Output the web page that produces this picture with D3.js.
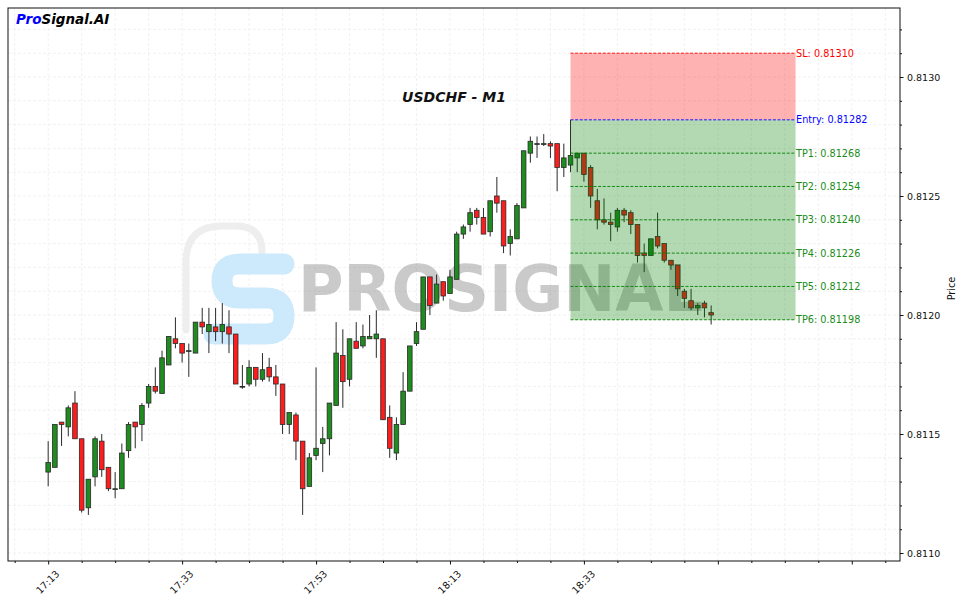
<!DOCTYPE html>
<html><head><meta charset="utf-8">
<script src="https://cdn.jsdelivr.net/npm/d3@7"></script>
<style>body{margin:0;background:#fff;} svg{display:block;font-family:"DejaVu Sans",sans-serif;}</style>
</head><body><svg id="c" width="963" height="603"></svg>
<script>
// ---- data (USDCHF M1, one candle per minute from 17:13) ----
const opens = [
0.81134,0.81136,0.81155,0.81153,0.81163,0.81148,0.81119,0.81132,0.81147,0.81136,
0.81127,0.81127,0.81143,0.81155,0.81154,0.81163,0.81170,0.81167,0.81179,0.81190,
0.81188,0.81185,0.81184,0.81197,0.81193,0.81195,0.81193,0.81195,0.81192,0.81170,
0.81171,0.81178,0.81173,0.81178,0.81174,0.81171,0.81154,0.81158,0.81147,0.81128,
0.81141,0.81146,0.81148,0.81162,0.81183,0.81173,0.81189,0.81187,0.81190,0.81190,
0.81190,0.81157,0.81142,0.81154,0.81168,0.81188,0.81194,0.81216,0.81205,0.81214,
0.81209,0.81215,0.81234,0.81238,0.81244,0.81241,0.81235,0.81250,0.81248,0.81230,
0.81232,0.81245,0.81268,0.81272,0.81272,0.81272,0.81272,0.81262,0.81263,0.81266,
0.81268,0.81262,0.81248,0.81240,0.81239,0.81237,0.81244,0.81243,0.81238,0.81226,
0.81225,0.81233,0.81230,0.81223,0.81221,0.81210,0.81206,0.81203,0.81205,0.81201];
const highs = [
0.81147,0.81154,0.81155,0.81162,0.81168,0.81148,0.81131,0.81149,0.81150,0.81136,
0.81134,0.81146,0.81155,0.81155,0.81163,0.81171,0.81178,0.81185,0.81191,0.81199,
0.81188,0.81188,0.81197,0.81203,0.81203,0.81203,0.81205,0.81202,0.81192,0.81179,
0.81181,0.81178,0.81184,0.81182,0.81179,0.81171,0.81159,0.81159,0.81147,0.81142,
0.81178,0.81153,0.81163,0.81197,0.81194,0.81190,0.81197,0.81196,0.81200,0.81202,
0.81190,0.81162,0.81157,0.81176,0.81187,0.81197,0.81216,0.81216,0.81217,0.81214,
0.81219,0.81235,0.81238,0.81245,0.81245,0.81245,0.81248,0.81258,0.81248,0.81236,
0.81247,0.81269,0.81275,0.81275,0.81276,0.81273,0.81272,0.81272,0.81282,0.81268,
0.81268,0.81263,0.81253,0.81249,0.81243,0.81245,0.81245,0.81244,0.81238,0.81230,
0.81232,0.81243,0.81230,0.81223,0.81221,0.81211,0.81211,0.81205,0.81206,0.81204];
const lows = [
0.81128,0.81136,0.81145,0.81149,0.81148,0.81117,0.81116,0.81128,0.81132,0.81126,
0.81123,0.81127,0.81140,0.81144,0.81147,0.81161,0.81167,0.81167,0.81179,0.81186,
0.81180,0.81174,0.81184,0.81192,0.81184,0.81189,0.81188,0.81184,0.81171,0.81169,
0.81170,0.81170,0.81172,0.81172,0.81166,0.81150,0.81150,0.81139,0.81116,0.81128,
0.81139,0.81134,0.81141,0.81162,0.81161,0.81170,0.81186,0.81186,0.81190,0.81182,
0.81156,0.81140,0.81139,0.81154,0.81168,0.81187,0.81194,0.81200,0.81205,0.81206,
0.81209,0.81215,0.81232,0.81235,0.81238,0.81234,0.81233,0.81243,0.81226,0.81225,
0.81232,0.81245,0.81264,0.81266,0.81271,0.81266,0.81252,0.81258,0.81260,0.81260,
0.81256,0.81245,0.81236,0.81238,0.81231,0.81235,0.81239,0.81234,0.81222,0.81218,
0.81225,0.81228,0.81222,0.81219,0.81208,0.81203,0.81202,0.81200,0.81199,0.81196];
const closes = [
0.81138,0.81154,0.81154,0.81161,0.81148,0.81118,0.81131,0.81148,0.81135,0.81127,
0.81127,0.81142,0.81154,0.81153,0.81162,0.81170,0.81168,0.81182,0.81191,0.81188,
0.81184,0.81185,0.81197,0.81195,0.81196,0.81193,0.81196,0.81192,0.81171,0.81170,
0.81178,0.81173,0.81177,0.81174,0.81171,0.81154,0.81159,0.81147,0.81127,0.81140,
0.81144,0.81148,0.81163,0.81184,0.81172,0.81190,0.81186,0.81191,0.81191,0.81192,
0.81156,0.81144,0.81154,0.81168,0.81187,0.81193,0.81216,0.81204,0.81213,0.81208,
0.81216,0.81234,0.81237,0.81243,0.81241,0.81234,0.81248,0.81247,0.81229,0.81233,
0.81246,0.81269,0.81273,0.81272,0.81272,0.81271,0.81262,0.81266,0.81267,0.81268,
0.81259,0.81250,0.81240,0.81239,0.81238,0.81244,0.81242,0.81238,0.81225,0.81225,
0.81232,0.81229,0.81223,0.81221,0.81211,0.81207,0.81203,0.81204,0.81203,0.81200];

const xMajorTicks = [0,20,40,60,80,100,120];
const xTickLabels = ["17:13","17:33","17:53","18:13","18:33","",""];
const xMinorTicks = [-5,5,10,15,25,30,35,45,50,55,65,70,75,85,90,95,105,110,115,125];
const yMajorTicks = [0.8110,0.8115,0.8120,0.8125,0.8130];
const yMinorTicks = [0.8110,0.8111,0.8112,0.8113,0.8114,0.8115,0.8116,0.8117,0.8118,0.8119,0.8120,
  0.8121,0.8122,0.8123,0.8124,0.8125,0.8126,0.8127,0.8128,0.8129,0.8130,0.8131,0.8132];

const levelNames  = ["SL","Entry","TP1","TP2","TP3","TP4","TP5","TP6"];
const levelValues = [0.81310,0.81282,0.81268,0.81254,0.81240,0.81226,0.81212,0.81198];
const levelKinds  = ["sl","entry","tp","tp","tp","tp","tp","tp"];
const signalStart = 78, signalEnd = 111.6;
const xLimits = [-6, 127.2];
const yLimits = [0.8109664, 0.8132899];

// ---- layout ----
const L = 8, R = 900, T = 8, B = 561;
const svg = d3.select("#c");
const x = d3.scaleLinear().domain(xLimits).range([L, R]);
const y = d3.scaleLinear().domain(yLimits).range([B, T]);
const kindColor = {sl:"#ff0000", entry:"#0000ff", tp:"#008000"};
const labelColor = {sl:"#ff0000", entry:"#0000ff", tp:"#1a8c1a"};

svg.append("defs").append("clipPath").attr("id","pc")
  .append("rect").attr("x",L).attr("y",T).attr("width",R-L).attr("height",B-T);
const plot = svg.append("g").attr("clip-path","url(#pc)");

// grid
const gridStyle = s => s.attr("stroke","#eeeeee").attr("stroke-width",0.8).attr("stroke-dasharray","3,2");
plot.append("g").selectAll("line").data(xMajorTicks.concat(xMinorTicks)).join("line")
  .attr("x1",d=>x(d)).attr("x2",d=>x(d)).attr("y1",T).attr("y2",B).call(gridStyle);
plot.append("g").selectAll("line").data(yMinorTicks).join("line")
  .attr("y1",d=>y(d)).attr("y2",d=>y(d)).attr("x1",L).attr("x2",R).call(gridStyle);

// watermark
const wm = plot.append("g");
wm.append("path")
  .attr("d","M186,330 L186,262 Q186,226 222,226 L236,226 Q262,226 262,252")
  .attr("fill","none").attr("stroke","#eeeeee").attr("stroke-width",7).attr("stroke-linecap","round");
wm.append("path")
  .attr("d","M284,264 L240,264 Q222,264 222,281 Q222,298 240,298 L266,298 Q284,298 284,316 Q284,334 266,334 L214,334")
  .attr("fill","none").attr("stroke","#cde9fc").attr("stroke-width",21).attr("stroke-linecap","round").attr("stroke-linejoin","round");
wm.append("text").attr("x",298).attr("y",311).attr("font-size",64).attr("font-weight","bold")
  .attr("textLength",405).attr("lengthAdjust","spacingAndGlyphs")
  .attr("fill","#8a8a8a").attr("fill-opacity",0.45).text("PROSIGNAL");

// candles
const idx = d3.range(opens.length);
const bw = 4.6;
const cg = plot.append("g");
cg.selectAll("line").data(idx).join("line")
  .attr("x1",i=>x(i)).attr("x2",i=>x(i))
  .attr("y1",i=>y(highs[i])).attr("y2",i=>y(lows[i]))
  .attr("stroke","#2a2a2a").attr("stroke-width",1);
cg.selectAll("rect").data(idx).join("rect")
  .attr("x",i=>x(i)-bw/2).attr("width",bw)
  .attr("y",i=>y(Math.max(opens[i],closes[i])))
  .attr("height",i=>Math.max(0.8, Math.abs(y(opens[i])-y(closes[i]))))
  .attr("fill",i=>closes[i]>=opens[i]?"#1e8c1e":"#ff1c1c")
  .attr("stroke","#2a2a2a").attr("stroke-width",0.8);

// zones
const sl = levelValues[0], entry = levelValues[1], tpLast = levelValues[levelValues.length-1];
plot.append("rect").attr("x",x(signalStart)).attr("width",x(signalEnd)-x(signalStart))
  .attr("y",y(sl)).attr("height",y(entry)-y(sl)).attr("fill","#ff0000").attr("fill-opacity",0.3);
plot.append("rect").attr("x",x(signalStart)).attr("width",x(signalEnd)-x(signalStart))
  .attr("y",y(entry)).attr("height",y(tpLast)-y(entry)).attr("fill","#008000").attr("fill-opacity",0.3);

// level lines & labels
const lv = svg.append("g");
lv.selectAll("line").data(levelValues).join("line")
  .attr("x1",x(signalStart)).attr("x2",x(signalEnd))
  .attr("y1",d=>y(d)).attr("y2",d=>y(d))
  .attr("stroke",(d,i)=>kindColor[levelKinds[i]]).attr("stroke-width",0.9).attr("stroke-dasharray","3,1.6");
lv.selectAll("text").data(levelValues).join("text")
  .attr("x",x(signalEnd)+0.5).attr("y",d=>y(d)).attr("dy","0.35em")
  .attr("font-size",9.7).attr("fill",(d,i)=>labelColor[levelKinds[i]])
  .text((d,i)=>levelNames[i]+": "+d.toFixed(5));

// frame
svg.append("rect").attr("x",L).attr("y",T).attr("width",R-L).attr("height",B-T)
  .attr("fill","none").attr("stroke","#111").attr("stroke-width",1);

// axes
const xa = svg.append("g").attr("transform",`translate(0,${B})`)
  .call(d3.axisBottom(x).tickValues(xMajorTicks).tickSize(3.5).tickFormat((d,i)=>xTickLabels[i]));
xa.select(".domain").remove();
xa.selectAll("line").attr("stroke","#111");
xa.selectAll("text").attr("font-size",9.8).attr("font-family","DejaVu Sans").attr("fill","#111")
  .attr("text-anchor","middle").attr("dy",null).attr("y",null)
  .attr("transform","translate(-1,21) rotate(-45)").attr("dominant-baseline","central");
const xm = svg.append("g").attr("transform",`translate(0,${B})`)
  .call(d3.axisBottom(x).tickValues(xMinorTicks).tickSize(2).tickFormat(""));
xm.select(".domain").remove(); xm.selectAll("line").attr("stroke","#111");

const ya = svg.append("g").attr("transform",`translate(${R},0)`)
  .call(d3.axisRight(y).tickValues(yMajorTicks).tickSize(3.5).tickPadding(3.5).tickFormat(d3.format(".4f")));
ya.select(".domain").remove();
ya.selectAll("line").attr("stroke","#111");
ya.selectAll("text").attr("font-size",9.5).attr("font-family","DejaVu Sans").attr("fill","#111");
const ym = svg.append("g").attr("transform",`translate(${R},0)`)
  .call(d3.axisRight(y).tickValues(yMinorTicks.filter(v=>!yMajorTicks.some(m=>Math.abs(m-v)<1e-9))).tickSize(2).tickFormat(""));
ym.select(".domain").remove(); ym.selectAll("line").attr("stroke","#111");

svg.append("text").attr("transform",`translate(955,${(T+B)/2+4}) rotate(-90)`)
  .attr("text-anchor","middle").attr("font-size",9.7).attr("fill","#111").text("Price");

// title & brand
svg.append("text").attr("x",(L+R)/2).attr("y",102).attr("text-anchor","middle")
  .attr("font-size",14).attr("font-weight","bold").attr("font-style","italic").attr("fill","#111")
  .text("USDCHF - M1");
const brand = svg.append("text").attr("x",16).attr("y",24).attr("font-size",13.5)
  .attr("font-weight","bold").attr("font-style","italic");
brand.append("tspan").attr("fill","#0000ff").text("Pro");
brand.append("tspan").attr("fill","#000").text("Signal.AI");
</script></body></html>
